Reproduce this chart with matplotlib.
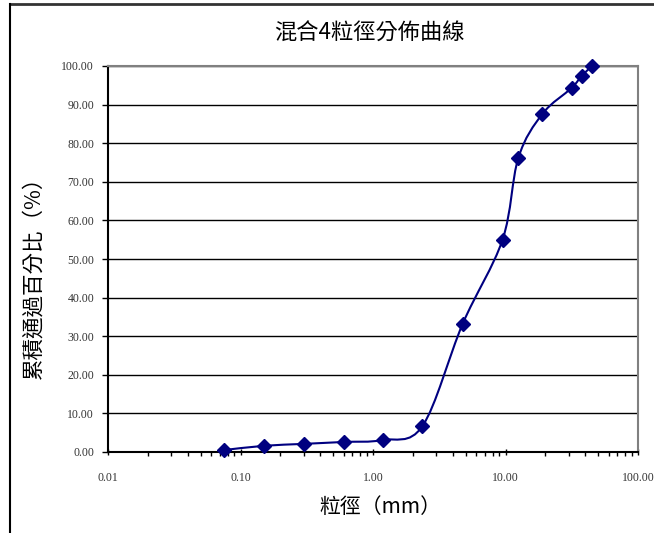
import matplotlib
matplotlib.use("Agg")
import matplotlib.pyplot as plt
from matplotlib.path import Path
from matplotlib.patches import PathPatch
from matplotlib.lines import Line2D
from matplotlib.ticker import FixedLocator, LogLocator, NullFormatter
import numpy as np

plt.rcParams['font.family'] = ['Noto Sans CJK TC', 'DejaVu Sans']

# sieve sizes (mm) and cumulative passing (%)
sizes = [0.075, 0.15, 0.30, 0.60, 1.18, 2.36, 4.75, 9.5, 12.5, 19.0, 31.5, 37.5, 45.0]
passing = [0.5, 1.6, 2.1, 2.6, 3.1, 6.7, 33.2, 55.0, 76.2, 87.6, 94.3, 97.4, 100.0]

x_ticks = [0.01, 0.1, 1, 10, 100]
x_tick_labels = ["0.01", "0.10", "1.00", "10.00", "100.00"]
y_ticks = [0, 10, 20, 30, 40, 50, 60, 70, 80, 90, 100]

title = "混合4粒徑分佈曲線"
xlabel = "粒徑（mm）"
ylabel = "累積通過百分比（%）"

navy = "#000080"


def smooth_path(xs, ys):
    # Excel-style smoothed line: bezier segments built in log-x space
    lx = np.log10(xs)
    ys = np.asarray(ys, dtype=float)
    n = len(lx)
    verts = [(xs[0], ys[0])]
    codes = [Path.MOVETO]
    for i in range(n - 1):
        i0 = max(i - 1, 0)
        i3 = min(i + 2, n - 1)
        c1 = (lx[i] + (lx[i + 1] - lx[i0]) / 6, ys[i] + (ys[i + 1] - ys[i0]) / 6)
        c2 = (lx[i + 1] - (lx[i3] - lx[i]) / 6, ys[i + 1] - (ys[i3] - ys[i]) / 6)
        verts += [(10 ** c1[0], c1[1]), (10 ** c2[0], c2[1]), (xs[i + 1], ys[i + 1])]
        codes += [Path.CURVE4] * 3
    return Path(verts, codes)


fig = plt.figure(figsize=(6.54, 5.33), dpi=100)
ax = fig.add_axes([108 / 654, 1 - 452 / 533, 530 / 654, 386 / 533])

ax.set_xscale("log")
ax.set_xlim(0.01, 100)
ax.set_ylim(0, 100)

for v in y_ticks[1:]:
    ax.axhline(v, color="black", lw=1.0, zorder=1)

ax.add_patch(PathPatch(smooth_path(sizes, passing), fill=False,
                       edgecolor=navy, lw=1.5, zorder=3))
ax.plot(sizes, passing, ls="none", marker="D", ms=7, color=navy, zorder=4,
        clip_on=False)

tick_font = dict(family="Liberation Serif", fontsize=8.5, color="#333333")
ax.xaxis.set_major_locator(FixedLocator(x_ticks))
ax.set_xticklabels(x_tick_labels, **tick_font)
ax.xaxis.set_minor_locator(LogLocator(base=10, subs=np.arange(2, 10)))
ax.xaxis.set_minor_formatter(NullFormatter())
ax.set_yticks(y_ticks)
ax.set_yticklabels([f"{v:.2f}" for v in y_ticks], **tick_font)
ax.tick_params(axis="x", which="major", length=5, width=1, pad=12, direction="inout")
ax.tick_params(axis="x", which="minor", length=3, width=1)
ax.tick_params(axis="y", length=4, width=1, pad=6)

ax.spines["left"].set_color("black")
ax.spines["bottom"].set_color("black")
ax.spines["left"].set_linewidth(1.5)
ax.spines["bottom"].set_linewidth(1.5)
ax.spines["top"].set_color("#808080")
ax.spines["right"].set_color("#808080")
ax.spines["top"].set_linewidth(1.5)
ax.spines["right"].set_linewidth(1.5)

fig.text(369 / 654, 1 - 33 / 533, title, ha="center", va="center", fontsize=16)
fig.text(380 / 654, 1 - 507 / 533, xlabel, ha="center", va="center", fontsize=15)
fig.text(33 / 654, 1 - 272 / 533, ylabel, ha="center", va="center", fontsize=15.5,
         rotation=90)

# chart area border (top and left edges visible)
fig.add_artist(Line2D([10 / 654, 1], [1 - 4 / 533] * 2, color="#333333", lw=2))
fig.add_artist(Line2D([10 / 654] * 2, [0, 1 - 4 / 533], color="black", lw=1.5))

fig.savefig("out.png", dpi=100)
